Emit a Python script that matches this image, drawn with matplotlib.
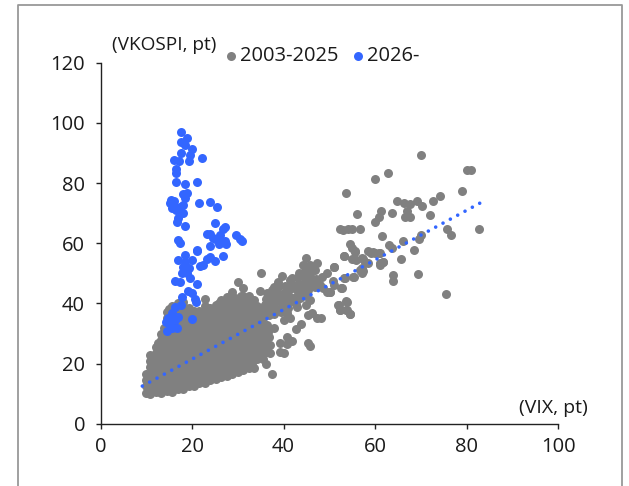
import matplotlib
matplotlib.use("Agg")
import matplotlib.pyplot as plt
from matplotlib.lines import Line2D

plt.rcParams['font.family'] = ['Open Sans', 'Noto Sans', 'DejaVu Sans']

W, H = 629, 486

# Dense 2003-2025 cloud, read column by column (VIX column, VKOSPI values)
cloud_vix = [9.8, 10.8, 12.0, 13.2, 14.4, 15.6, 16.8, 18.0, 19.2, 20.4, 21.6, 22.8,
             24.0, 25.2, 26.4, 27.6, 28.8, 30.0, 31.2, 32.4, 33.6, 34.8,
             11.4, 12.6, 13.8, 15.0, 16.2, 17.4, 18.6, 19.8, 21.0, 22.2, 23.4,
             24.6, 25.8, 27.0, 28.2, 29.4, 30.6, 31.8, 33.0, 34.2]
cloud_vkospi = [
    [10.2, 12.4, 14.6, 16.4],
    [10.0, 12.2, 14.4, 16.6, 18.8, 21.0, 23.0],
    [10.4, 12.6, 14.8, 17.0, 19.2, 21.4, 23.6, 25.6],
    [10.2, 12.4, 14.6, 16.8, 19.0, 21.2, 23.4, 25.6, 27.8, 29.8],
    [10.8, 13.0, 15.2, 17.4, 19.6, 21.8, 24.0, 26.2, 28.4, 30.6, 32.8, 35.0, 37.0],
    [10.6, 12.8, 15.0, 17.2, 19.4, 21.6, 23.8, 26.0, 28.2, 30.4, 32.6, 34.8, 37.0, 39.2],
    [11.6, 13.8, 16.0, 18.2, 20.4, 22.6, 24.8, 27.0, 29.2, 31.4, 33.6, 35.8, 38.0, 40.0],
    [11.6, 12.8, 15.0, 17.2, 19.4, 21.6, 23.8, 26.0, 28.2, 30.4, 32.6, 34.8, 37.0, 39.2, 40.4],
    [12.4, 14.6, 16.8, 19.0, 21.2, 23.4, 25.6, 27.8, 30.0, 32.2, 34.4, 36.6, 38.6],
    [12.6, 14.0, 16.2, 18.4, 20.6, 22.8, 25.0, 27.2, 29.4, 31.6, 33.8, 36.0, 37.6],
    [13.4, 15.6, 17.8, 20.0, 22.2, 24.4, 26.6, 28.8, 31.0, 33.2, 35.4, 37.4],
    [13.6, 15.2, 17.4, 19.6, 21.8, 24.0, 26.2, 28.4, 30.6, 32.8, 35.0, 37.2, 39.0, 41.6],
    [14.4, 16.6, 18.8, 21.0, 23.2, 25.4, 27.6, 29.8, 32.0, 34.2, 36.4, 38.6],
    [14.8, 16.4, 18.6, 20.8, 23.0, 25.2, 27.4, 29.6, 31.8, 34.0, 36.2, 38.4, 39.4],
    [15.4, 17.6, 19.8, 22.0, 24.2, 26.4, 28.6, 30.8, 33.0, 35.2, 37.4, 39.6, 41.0],
    [16.0, 17.4, 19.6, 21.8, 24.0, 26.2, 28.4, 30.6, 32.8, 35.0, 37.2, 39.4, 42.0],
    [16.6, 18.6, 20.8, 23.0, 25.2, 27.4, 29.6, 31.8, 34.0, 36.2, 38.4, 40.6, 43.8],
    [17.2, 19.4, 21.6, 23.8, 26.0, 28.2, 30.4, 32.6, 34.8, 37.0, 39.2, 41.0, 47.0],
    [18.0, 20.4, 22.6, 24.8, 27.0, 29.2, 31.4, 33.6, 35.8, 38.0, 40.2, 42.6, 45.0],
    [18.6, 21.0, 23.2, 25.4, 27.6, 29.8, 32.0, 34.2, 36.4, 38.6, 40.8, 42.4],
    [18.6, 21.8, 24.0, 26.2, 28.4, 30.6, 32.8, 35.0, 37.2, 39.4, 41.2],
    [22.4, 24.6, 26.8, 29.0, 31.2, 33.4, 35.6, 37.8, 44.0],
    # in-between columns
    [11.2, 13.5, 15.7, 17.9, 20.1, 22.3],
    [11.5, 13.7, 15.9, 18.1, 20.3, 22.5, 24.7, 26.8],
    [11.9, 14.1, 16.3, 18.5, 20.7, 22.9, 25.1, 27.3, 29.5, 31.7],
    [11.9, 14.1, 16.3, 18.5, 20.7, 22.9, 25.1, 27.3, 29.5, 31.7, 33.9, 36.1, 38.0],
    [12.6, 14.8, 17.0, 19.2, 21.4, 23.6, 25.8, 28.0, 30.2, 32.4, 34.6, 36.8, 38.9],
    [12.6, 14.8, 17.0, 19.2, 21.4, 23.6, 25.8, 28.0, 30.2, 32.4, 34.6, 36.8, 39.0],
    [13.3, 15.5, 17.7, 19.9, 22.1, 24.3, 26.5, 28.7, 30.9, 33.1, 35.3, 37.5],
    [13.5, 15.7, 17.9, 20.1, 22.3, 24.5, 26.7, 28.9, 31.1, 33.3, 35.5, 37.4],
    [14.2, 16.4, 18.6, 20.8, 23.0, 25.2, 27.4, 29.6, 31.8, 34.0, 36.2],
    [14.4, 16.6, 18.8, 21.0, 23.2, 25.4, 27.6, 29.8, 32.0, 34.2, 36.4],
    [14.9, 17.1, 19.3, 21.5, 23.7, 25.9, 28.1, 30.3, 32.5, 34.7, 36.9, 38.4],
    [15.5, 17.7, 19.9, 22.1, 24.3, 26.5, 28.7, 30.9, 33.1, 35.3, 37.5],
    [16.1, 18.3, 20.5, 22.7, 24.9, 27.1, 29.3, 31.5, 33.7, 35.9, 38.1, 40.0],
    [16.7, 18.9, 21.1, 23.3, 25.5, 27.7, 29.9, 32.1, 34.3, 36.5, 38.7, 40.6],
    [17.3, 19.5, 21.7, 23.9, 26.1, 28.3, 30.5, 32.7, 34.9, 37.1, 39.3, 41.2],
    [17.9, 20.1, 22.3, 24.5, 26.7, 28.9, 31.1, 33.3, 35.5, 37.7, 39.9, 41.8],
    [18.7, 20.9, 23.1, 25.3, 27.5, 29.7, 31.9, 34.1, 36.3, 38.5, 40.7, 42.4],
    [19.4, 21.6, 23.8, 26.0, 28.2, 30.4, 32.6, 34.8, 37.0, 39.2, 41.0],
    [20.1, 22.3, 24.5, 26.7, 28.9, 31.1, 33.3, 35.5, 37.7, 39.9, 41.2],
    [21.4, 23.6, 25.8, 28.0, 30.2, 32.4, 34.6, 36.8, 39.0],
]

# Sparser 2003-2025 points, read one by one
sparse_vix = [35.1, 37.4, 36.1, 40.0, 39.2, 45.4, 45.8, 40.8, 41.8, 40.8, 42.6, 43.8, 39.2, 37.0, 35.6, 36.7, 37.8, 36.3,
              40.0, 41.4, 40.7, 42.9, 47.2, 48.1, 46.1, 45.4, 45.0, 45.8, 52.7, 53.8, 52.0, 52.3, 53.8, 54.5,
              49.4, 50.2, 48.7, 45.0, 44.3, 47.2, 45.8, 46.9, 49.4, 48.3, 51.1, 39.6, 38.8, 37.8, 38.5, 41.4,
              42.1, 43.6, 45.0, 43.2, 44.7, 46.5, 40.7, 41.4, 39.2, 37.0, 36.0, 38.5, 40.7, 42.9, 35.6, 34.8,
              53.1, 55.3, 57.1, 61.1, 61.8, 53.2, 55.3, 57.4, 58.5, 59.6, 61.1, 55.6,
              70.0, 62.9, 59.9, 53.6, 80.2, 80.9, 79.1, 74.2, 72.7, 64.7, 66.3, 67.6, 69.1, 70.3, 67.0, 61.4,
              63.6, 56.1, 60.8, 60.0, 66.5, 67.7, 72.0, 52.3, 53.0, 54.1, 55.0, 56.7, 82.7, 75.8, 76.5, 61.5,
              70.0, 69.6, 66.0, 63.0, 63.6, 68.5, 54.5, 55.0, 55.7, 58.5, 59.0, 60.0, 60.8, 53.1, 55.0, 55.8,
              57.2, 57.9, 65.6, 61.8, 61.0, 51.0, 57.4, 56.7, 57.1, 64.0, 64.0, 69.3, 75.5, 55.2, 53.4, 50.8,
              51.0, 52.6, 50.1, 53.7, 52.1, 52.3, 53.7, 54.5,
              # band between VIX 35 and 48
              35.6, 35.8, 36.0, 36.2, 36.4, 35.5, 36.8, 37.0, 37.2, 37.4, 38.0, 38.2, 38.4, 38.6, 38.8,
              39.4, 39.6, 39.8, 40.0, 40.2, 41.0, 41.2, 41.4, 41.6, 41.8, 42.0, 42.6, 42.8, 43.0, 43.2, 43.4,
              43.6, 44.0, 44.2, 44.4, 44.6, 44.8, 45.4, 45.6, 45.8, 46.0, 46.2, 46.8, 47.0, 47.4, 48.0,
              35.4, 35.8, 36.0, 35.6, 36.4, 37.0, 36.6, 35.3]
sparse_vkospi = [50.2, 16.5, 19.7, 23.6, 23.8, 26.7, 25.8, 28.7, 27.6, 26.5, 31.4, 33.3, 26.9, 26.1, 25.0, 28.9, 31.7, 32.8,
                 34.4, 35.0, 36.7, 38.9, 35.0, 35.2, 36.7, 36.1, 39.4, 41.1, 45.0, 40.5, 39.4, 37.8, 37.8, 36.3,
                 43.9, 43.9, 45.0, 55.0, 52.7, 53.3, 52.7, 51.0, 50.0, 48.8, 52.0, 49.0, 47.0, 45.5, 43.3, 47.7,
                 45.5, 43.3, 46.6, 48.8, 48.8, 47.7, 43.9, 42.2, 41.1, 40.5, 39.4, 37.8, 40.0, 41.6, 36.7, 34.4,
                 48.3, 48.8, 51.6, 53.3, 53.8, 55.7, 54.6, 54.9, 53.3, 57.1, 56.6, 57.1,
                 89.3, 83.5, 81.2, 76.6, 84.4, 84.4, 77.2, 75.8, 74.1, 74.1, 73.2, 73.0, 73.9, 72.3, 70.7, 70.6,
                 70.2, 69.6, 68.6, 67.0, 68.8, 68.6, 69.4, 64.6, 64.4, 64.8, 64.7, 64.6, 64.7, 64.6, 62.8, 62.5,
                 62.7, 61.3, 60.8, 59.4, 58.3, 57.6, 59.7, 58.3, 57.5, 57.5, 56.9, 56.9, 56.6, 55.9, 54.8, 54.4,
                 55.0, 53.9, 54.6, 53.9, 52.8, 52.0, 50.9, 51.1, 50.0, 49.4, 47.6, 49.7, 43.2, 48.9, 48.3, 47.6,
                 46.1, 45.0, 43.9, 40.7, 39.5, 37.8, 37.8, 36.4,
                 35.0, 37.2, 39.6, 41.6, 43.4, 32.6, 36.2, 38.6, 42.4, 44.6, 36.4, 38.6, 40.8, 43.0, 45.4,
                 37.0, 39.2, 41.4, 43.6, 45.8, 38.4, 40.4, 44.8, 46.4, 48.4, 41.4, 39.8, 42.0, 44.6, 46.6, 50.0,
                 41.8, 44.2, 46.4, 48.6, 50.6, 42.6, 44.6, 46.8, 49.0, 50.6, 52.2, 45.6, 48.2, 46.8, 46.0,
                 30.2, 23.4, 27.6, 21.4, 24.0, 23.6, 30.4, 27.8]

# 2026- points
new_vix = [17.6, 18.8, 17.5, 18.4, 19.9, 17.6, 19.5, 22.2, 16.1, 17.2, 19.4, 16.5, 16.4, 16.4, 18.4, 21.1,
           18.9, 17.9, 18.4, 15.3, 16.0, 15.2, 15.9, 15.6, 16.5, 18.1, 17.3, 17.9, 21.5, 23.8, 25.4,
           17.0, 16.6, 18.4, 24.9, 27.2, 26.7, 23.8, 23.2, 26.1, 29.5, 30.5, 31.0, 24.6, 25.4, 27.2, 27.4,
           23.9, 25.9, 17.0, 17.3, 21.0, 21.0, 23.9, 26.8, 25.0, 23.2, 22.4, 21.7, 18.4, 17.0, 19.9, 18.4,
           18.1, 19.2, 17.7, 18.8, 19.5, 16.3, 17.3, 21.0, 19.0, 19.9, 20.6, 20.8, 17.8, 16.2, 17.5, 15.7,
           17.0, 14.8, 16.2, 15.2, 20.0, 16.6, 15.5, 14.6, 14.3]
new_vkospi = [96.9, 95.0, 93.8, 92.8, 91.3, 90.0, 89.3, 88.3, 87.8, 87.4, 87.3, 84.5, 83.4, 80.2, 79.7, 80.3,
              76.7, 76.2, 74.9, 74.3, 74.1, 73.5, 72.7, 71.6, 71.0, 72.7, 72.1, 70.1, 73.5, 73.8, 71.9,
              68.3, 66.9, 65.7, 66.7, 65.4, 64.7, 63.0, 63.0, 62.8, 62.7, 61.5, 60.6, 61.6, 61.0, 60.8, 59.7,
              59.0, 59.6, 61.2, 60.2, 57.7, 57.4, 55.5, 55.7, 54.2, 54.9, 52.7, 52.4, 56.0, 54.4, 54.4, 53.8,
              52.2, 51.6, 50.0, 50.0, 48.3, 47.4, 47.2, 46.4, 44.1, 43.3, 41.6, 40.5, 42.0, 38.9, 39.4, 36.7,
              35.6, 35.0, 34.5, 33.3, 34.7, 31.7, 31.7, 30.8, 33.9]

# Trend line end points
trend_vix = [9.1, 82.9]
trend_vkospi = [12.5, 73.3]

x_ticks = [0, 20, 40, 60, 80, 100]
y_ticks = [0, 20, 40, 60, 80, 100, 120]
series_names = ['2003-2025', '2026-']
gray, blue = '#808080', '#3366FF'

fig = plt.figure(figsize=(W / 100, H / 100), dpi=100, facecolor='white')
ax = fig.add_axes([100.7 / W, 1 - 423.7 / H, (558 - 100.7) / W, (423.7 - 62.7) / H])

gx, gy = [], []
for cx, col in zip(cloud_vix, cloud_vkospi):
    gx += [cx] * len(col)
    gy += col
gx += sparse_vix
gy += sparse_vkospi

ax.scatter(gx, gy, s=42, color=gray, linewidths=0, zorder=2, clip_on=False, label=series_names[0])
ax.scatter(new_vix, new_vkospi, s=42, color=blue, linewidths=0, zorder=3, clip_on=False, label=series_names[1])
ax.plot(trend_vix, trend_vkospi, color=blue, lw=2.6, linestyle=(0, (0.01, 2.3)),
        dash_capstyle='round', zorder=4)

ax.set_xlim(0, 100)
ax.set_ylim(0, 120)
ax.set_xticks(x_ticks)
ax.set_yticks(y_ticks)
ax.tick_params(axis='both', direction='out', length=3.8, width=1.0, color='#222222',
               labelsize=14.5, labelcolor='#1a1a1a')
ax.tick_params(axis='x', pad=5.5)
ax.tick_params(axis='y', pad=7.5)
for s in ('top', 'right'):
    ax.spines[s].set_visible(False)
for s in ('left', 'bottom'):
    ax.spines[s].set_color('#222222')
    ax.spines[s].set_linewidth(1.0)

fig.text(112 / W, 1 - 45 / H, '(VKOSPI, pt)', fontsize=13.7, color='#1a1a1a', ha='left', va='center')
fig.text(588 / W, 1 - 408 / H, '(VIX, pt)', fontsize=14, color='#1a1a1a', ha='right', va='center')

leg = ax.legend(ncol=2, frameon=False, loc='center left',
                bbox_to_anchor=(224.5 / W, 1 - 56 / H), bbox_transform=fig.transFigure,
                fontsize=14.5, handlelength=0.6, handletextpad=0.15, columnspacing=0.7,
                borderpad=0, borderaxespad=0, labelcolor='#1a1a1a')

# Outer frame (open at the bottom)
fig.add_artist(Line2D([18.3 / W, 18.3 / W, 622.3 / W, 622.3 / W],
                      [0, 1 - 5.5 / H, 1 - 5.5 / H, 0],
                      color='#999999', lw=1.3, transform=fig.transFigure))

fig.savefig('out.png', dpi=100)
